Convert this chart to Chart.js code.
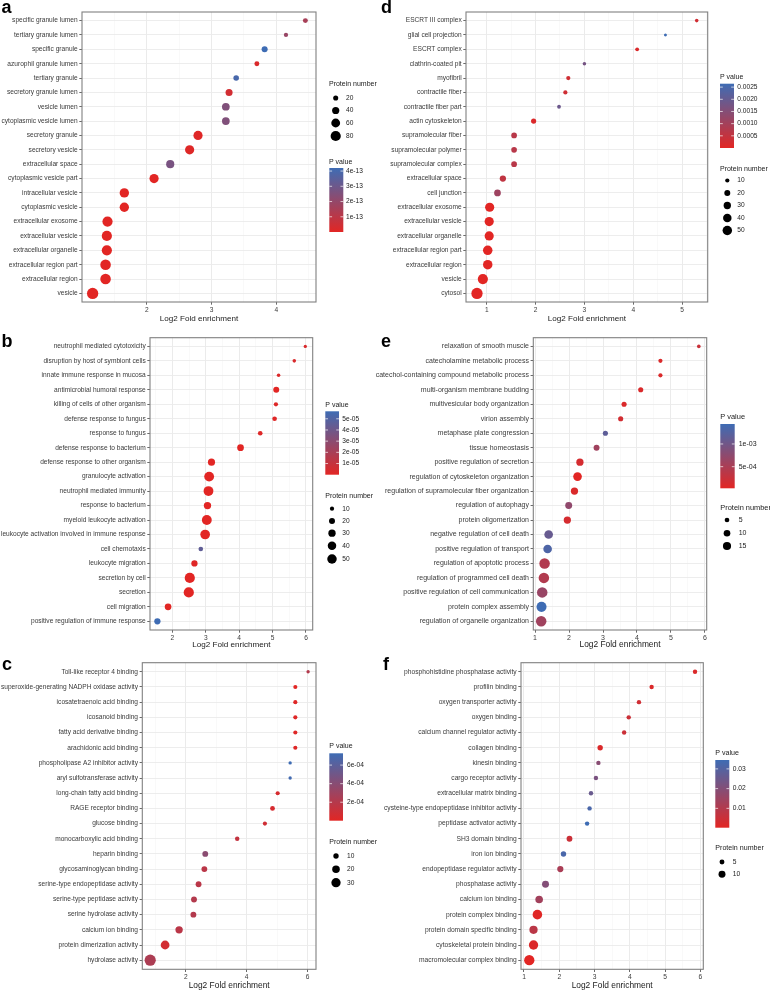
<!DOCTYPE html>
<html>
<head>
<meta charset="utf-8">
<title>GO enrichment bubble charts</title>
<script src="https://cdn.jsdelivr.net/npm/chart.js@4.4.1/dist/chart.umd.min.js"></script>
<style>
  body { margin: 0; background: #fff; }
  #page { position: relative; width: 770px; height: 991px; overflow: hidden; background: #fff; }
  #page canvas { position: absolute; }
</style>
</head>
<body>
<div id="page"></div>
<script>
// ------------------------------------------------------------------
// Six GO enrichment dot plots (a-f), one Chart.js bubble chart each.
// x = Log2 fold enrichment, dot size = protein number, colour = P value
// ------------------------------------------------------------------

// ---- panel a : cellular component ----
var aTerms = ['specific granule lumen', 'tertiary granule lumen', 'specific granule', 'azurophil granule lumen',
  'tertiary granule', 'secretory granule lumen', 'vesicle lumen', 'cytoplasmic vesicle lumen', 'secretory granule',
  'secretory vesicle', 'extracellular space', 'cytoplasmic vesicle part', 'intracellular vesicle', 'cytoplasmic vesicle',
  'extracellular exosome', 'extracellular vesicle', 'extracellular organelle', 'extracellular region part',
  'extracellular region', 'vesicle']
var aFold = [4.45, 4.15, 3.82, 3.70, 3.38, 3.27, 3.22, 3.22, 2.79, 2.66, 2.36, 2.11, 1.65, 1.65, 1.39, 1.38, 1.38, 1.36, 1.36, 1.16]
var aCount = [19, 14, 28, 19, 24, 38, 46, 46, 65, 65, 51, 65, 67, 67, 80, 80, 80, 86, 86, 98]
var aPval = [1.5e-13, 1.9e-13, 4.2e-13, 2e-14, 3.95e-13, 4e-14, 2.5e-13, 2.5e-13, 8e-15, 1e-14, 2.7e-13, 1e-16,
  1e-16, 1e-16, 1e-16, 1e-16, 1e-16, 1e-16, 1e-16, 1e-16]
var aXTicks = [2, 3, 4]
var aSizeBreaks = [20, 40, 60, 80]
var aPBreaks = [1e-13, 2e-13, 3e-13, 4e-13]
var aPLabels = ['1e-13', '2e-13', '3e-13', '4e-13']

// ---- panel d : cellular component ----
var dTerms = ['ESCRT III complex', 'glial cell projection', 'ESCRT complex', 'clathrin-coated pit', 'myofibril',
  'contractile fiber', 'contractile fiber part', 'actin cytoskeleton', 'supramolecular fiber', 'supramolecular polymer',
  'supramolecular complex', 'extracellular space', 'cell junction', 'extracellular exosome', 'extracellular vesicle',
  'extracellular organelle', 'extracellular region part', 'extracellular region', 'vesicle', 'cytosol']
var dFold = [5.30, 4.66, 4.08, 3.00, 2.67, 2.61, 2.48, 1.96, 1.56, 1.56, 1.56, 1.33, 1.22, 1.06, 1.05, 1.05, 1.02, 1.02, 0.92, 0.80]
var dCount = [7, 5, 8, 7, 10, 10, 8, 15, 18, 18, 18, 22, 25, 47, 47, 47, 50, 50, 58, 71]
var dPval = [0.00027, 0.00264, 0.00013, 0.00175, 0.0003, 0.0003, 0.0019, 0.00012, 0.00067, 0.00067, 0.00067,
  0.00055, 0.0011, 1e-6, 1e-6, 1e-6, 1e-6, 1e-6, 1e-6, 1e-7]
var dXTicks = [1, 2, 3, 4, 5]
var dSizeBreaks = [10, 20, 30, 40, 50]
var dPBreaks = [0.0005, 0.0010, 0.0015, 0.0020, 0.0025]
var dPLabels = ['0.0005', '0.0010', '0.0015', '0.0020', '0.0025']

// ---- panel b : biological process ----
var bTerms = ['neutrophil mediated cytotoxicity', 'disruption by host of symbiont cells', 'innate immune response in mucosa',
  'antimicrobial humoral response', 'killing of cells of other organism', 'defense response to fungus', 'response to fungus',
  'defense response to bacterium', 'defense response to other organism', 'granulocyte activation',
  'neutrophil mediated immunity', 'response to bacterium', 'myeloid leukocyte activation',
  'leukocyte activation involved in immune response', 'cell chemotaxis', 'leukocyte migration', 'secretion by cell',
  'secretion', 'cell migration', 'positive regulation of immune response']
var bFold = [5.98, 5.65, 5.18, 5.11, 5.10, 5.06, 4.63, 4.04, 3.17, 3.10, 3.08, 3.05, 3.03, 2.98, 2.85, 2.66, 2.52, 2.49, 1.87, 1.55]
var bCount = [6, 7, 7, 20, 10, 12, 12, 25, 28, 54, 54, 30, 54, 52, 12, 22, 58, 58, 25, 22]
var bPval = [3e-6, 3e-6, 2.5e-6, 1e-7, 1.5e-6, 1e-6, 1.5e-6, 1e-8, 1e-9, 1e-12, 1e-12, 1e-9, 1e-12, 1e-12,
  4.5e-5, 1e-6, 1e-10, 1e-10, 5e-7, 5.67e-5]
var bXTicks = [2, 3, 4, 5, 6]
var bSizeBreaks = [10, 20, 30, 40, 50]
var bPBreaks = [1e-5, 2e-5, 3e-5, 4e-5, 5e-5]
var bPLabels = ['1e-05', '2e-05', '3e-05', '4e-05', '5e-05']

// ---- panel e : biological process ----
var eTerms = ['relaxation of smooth muscle', 'catecholamine metabolic process', 'catechol-containing compound metabolic process',
  'multi-organism membrane budding', 'multivesicular body organization', 'virion assembly', 'metaphase plate congression',
  'tissue homeostasis', 'positive regulation of secretion', 'regulation of cytoskeleton organization',
  'regulation of supramolecular fiber organization', 'regulation of autophagy', 'protein oligomerization',
  'negative regulation of cell death', 'positive regulation of transport', 'regulation of apoptotic process',
  'regulation of programmed cell death', 'positive regulation of cell communication', 'protein complex assembly',
  'regulation of organelle organization']
var eFold = [5.82, 4.69, 4.69, 4.11, 3.62, 3.52, 3.07, 2.81, 2.32, 2.25, 2.16, 1.99, 1.95, 1.40, 1.37, 1.28, 1.26, 1.21, 1.19, 1.18]
var eCount = [3, 4, 4, 6, 6, 6, 6, 8, 12, 17, 12, 11, 12, 17, 17, 25, 25, 25, 23, 25]
var ePval = [2.4e-4, 9.5e-5, 9.5e-5, 9e-5, 9e-5, 1.66e-4, 1.16e-3, 5.9e-4, 1.4e-4, 2.4e-5, 9.5e-5, 7.3e-4, 1.4e-4,
  1.09e-3, 1.3e-3, 4.5e-4, 4.5e-4, 6.6e-4, 1.44e-3, 5.9e-4]
var eXTicks = [1, 2, 3, 4, 5, 6]
var eSizeBreaks = [5, 10, 15]
var ePBreaks = [5e-4, 1e-3]
var ePLabels = ['5e-04', '1e-03']

// ---- panel c : molecular function ----
var cTerms = ['Toll-like receptor 4 binding', 'superoxide-generating NADPH oxidase activity', 'icosatetraenoic acid binding',
  'icosanoid binding', 'fatty acid derivative binding', 'arachidonic acid binding', 'phospholipase A2 inhibitor activity',
  'aryl sulfotransferase activity', 'long-chain fatty acid binding', 'RAGE receptor binding', 'glucose binding',
  'monocarboxylic acid binding', 'heparin binding', 'glycosaminoglycan binding', 'serine-type endopeptidase activity',
  'serine-type peptidase activity', 'serine hydrolase activity', 'calcium ion binding', 'protein dimerization activity',
  'hydrolase activity']
var cFold = [6.02, 5.60, 5.60, 5.60, 5.60, 5.60, 5.43, 5.43, 5.02, 4.85, 4.60, 3.69, 2.64, 2.61, 2.42, 2.27, 2.25, 1.78, 1.32, 0.83]
var cCount = [4, 6, 6, 6, 6, 6, 4, 4, 6, 8, 6, 7, 12, 12, 12, 12, 12, 19, 27, 44]
var cPval = [2.1e-4, 1e-6, 1.5e-5, 1.5e-5, 1.5e-5, 1.5e-5, 7.27e-4, 7.1e-4, 5.5e-5, 5.5e-5, 8.5e-5, 1.4e-4,
  3.9e-4, 1.8e-4, 1.8e-4, 2.1e-4, 2.1e-4, 1.8e-4, 7e-5, 2.4e-4]
var cXTicks = [2, 4, 6]
var cSizeBreaks = [10, 20, 30]
var cPBreaks = [2e-4, 4e-4, 6e-4]
var cPLabels = ['2e-04', '4e-04', '6e-04']

// ---- panel f : molecular function ----
var fTerms = ['phosphohistidine phosphatase activity', 'profilin binding', 'oxygen transporter activity', 'oxygen binding',
  'calcium channel regulator activity', 'collagen binding', 'kinesin binding', 'cargo receptor activity',
  'extracellular matrix binding', 'cysteine-type endopeptidase inhibitor activity', 'peptidase activator activity',
  'SH3 domain binding', 'iron ion binding', 'endopeptidase regulator activity', 'phosphatase activity',
  'calcium ion binding', 'protein complex binding', 'protein domain specific binding', 'cytoskeletal protein binding',
  'macromolecular complex binding']
var fFold = [5.85, 4.62, 4.26, 3.97, 3.84, 3.16, 3.11, 3.04, 2.90, 2.86, 2.79, 2.29, 2.12, 2.03, 1.61, 1.43, 1.38, 1.27, 1.27, 1.15]
var fCount = [4, 4, 4, 4, 4, 6, 4, 4, 4, 4, 4, 7, 6, 8, 10, 12, 19, 14, 18, 22]
var fPval = [0.0017, 0.0017, 0.004, 0.005, 0.005, 0.0017, 0.019, 0.022, 0.0255, 0.032, 0.0345, 0.005, 0.032,
  0.012, 0.02, 0.0136, 0.0007, 0.0085, 0.0017, 0.0002]
var fXTicks = [1, 2, 3, 4, 5, 6]
var fSizeBreaks = [5, 10]
var fPBreaks = [0.01, 0.02, 0.03]
var fPLabels = ['0.01', '0.02', '0.03']

// ------------------------------------------------------------------
// styling
// ------------------------------------------------------------------
var FONT = '"Liberation Sans", Arial, Helvetica, sans-serif'
var LOW = [226, 38, 36]     // low P value (red)
var HIGH = [62, 108, 180]   // high P value (blue)
Chart.defaults.font.family = FONT
Chart.defaults.animation = false

function pColor(t) {
  t = Math.max(0, Math.min(1, t))
  var c = LOW.map((lo, i) => Math.round(lo + (HIGH[i] - lo) * t))
  return 'rgb(' + c.join(',') + ')'
}

// page placement of each panel (global pixel coordinates)
var panels = [
  { tag: 'a', terms: aTerms, fold: aFold, count: aCount, pval: aPval, xTicks: aXTicks, sizeBreaks: aSizeBreaks, pBreaks: aPBreaks, pLabels: aPLabels,
    box: [0, 0, 385, 326], plot: [82, 316, 12, 302], fs: 6.6, ts: 8.1, titlePad: 2.1, tagXY: [1.5, 12.5], k: 1.14,
    pTitle: [329, 162], bar: [329.3, 168, 14, 64], pLabelX: 346,
    sTitle: [329, 84.3], sX: 335.7, sYs: [98, 110.5, 123, 136], sLabelX: 346 },
  { tag: 'd', terms: dTerms, fold: dFold, count: dCount, pval: dPval, xTicks: dXTicks, sizeBreaks: dSizeBreaks, pBreaks: dPBreaks, pLabels: dPLabels,
    box: [355, 0, 415, 326], plot: [466, 707.7, 12, 302], fs: 6.6, ts: 8.1, titlePad: 2.1, tagXY: [381, 12.5], k: 1.34,
    pTitle: [720, 77], bar: [720, 83.7, 14, 64.3], pLabelX: 737.3,
    sTitle: [720, 168.7], sX: 727.3, sYs: [180.5, 193, 205.5, 218, 230.5], sLabelX: 737.3 },
  { tag: 'b', terms: bTerms, fold: bFold, count: bCount, pval: bPval, xTicks: bXTicks, sizeBreaks: bSizeBreaks, pBreaks: bPBreaks, pLabels: bPLabels,
    box: [0, 326, 385, 326], plot: [150, 312.7, 337.7, 630], fs: 6.6, ts: 8.1, titlePad: 2.1, tagXY: [1.5, 347], k: 1.34,
    pTitle: [325.3, 404.7], bar: [325.3, 411.3, 13.7, 63.4], pLabelX: 342.3,
    sTitle: [325.3, 495.7], sX: 332, sYs: [508.7, 521, 533.2, 545.8, 559], sLabelX: 342.3 },
  { tag: 'e', terms: eTerms, fold: eFold, count: eCount, pval: ePval, xTicks: eXTicks, sizeBreaks: eSizeBreaks, pBreaks: ePBreaks, pLabels: ePLabels,
    box: [355, 326, 415, 326], plot: [533.3, 706.7, 337.7, 630], fs: 7.0, ts: 8.4, titlePad: 2.1, tagXY: [381, 347], k: 2.1,
    pTitle: [720.3, 417.3], bar: [720.3, 424, 14.4, 64.3], pLabelX: 738.7,
    sTitle: [720.3, 507.7], sX: 727, sYs: [520, 533.3, 546], sLabelX: 738.7 },
  { tag: 'c', terms: cTerms, fold: cFold, count: cCount, pval: cPval, xTicks: cXTicks, sizeBreaks: cSizeBreaks, pBreaks: cPBreaks, pLabels: cPLabels,
    box: [0, 652, 385, 339], plot: [142.3, 316, 662.7, 969.3], fs: 6.6, ts: 8.4, titlePad: 0.3, tagXY: [2, 670], k: 1.69,
    pTitle: [329.3, 746], bar: [329.3, 753.3, 13.7, 67.4], pLabelX: 347,
    sTitle: [329.3, 841.7], sX: 336, sYs: [856, 869.3, 882.7], sLabelX: 347 },
  { tag: 'f', terms: fTerms, fold: fFold, count: fCount, pval: fPval, xTicks: fXTicks, sizeBreaks: fSizeBreaks, pBreaks: fPBreaks, pLabels: fPLabels,
    box: [355, 652, 415, 339], plot: [521, 703.3, 662.7, 969.3], fs: 6.7, ts: 8.4, titlePad: 0.3, tagXY: [383, 670], k: 2.2,
    pTitle: [715.3, 753.3], bar: [715.3, 760, 14, 67.7], pLabelX: 732.7,
    sTitle: [715.3, 847.7], sX: 722, sYs: [862, 874.3], sLabelX: 732.7 }
]

function makePanel(P) {
  var ox = P.box[0], oy = P.box[1], W = P.box[2], H = P.box[3]
  var canvas = document.createElement('canvas')
  canvas.width = W
  canvas.height = H
  canvas.style.left = ox + 'px'
  canvas.style.top = oy + 'px'
  document.getElementById('page').appendChild(canvas)

  var n = P.terms.length
  var pMin = Math.min(...P.pval), pMax = Math.max(...P.pval)
  var fMin = Math.min(...P.fold), fMax = Math.max(...P.fold)
  // ggplot style 5% expansion of the continuous axis
  var xMin = fMin - (fMax - fMin) * 0.05
  var xMax = fMax + (fMax - fMin) * 0.05

  // major ticks plus half-way minor grid lines
  var half = (P.xTicks[1] - P.xTicks[0]) / 2
  var xAll = []
  for (var i = -1; i <= 2 * P.xTicks.length; i++) {
    var v = Math.round((P.xTicks[0] + i * half) * 1000) / 1000
    if (v >= xMin && v <= xMax) xAll.push(v)
  }
  var isMajor = v => P.xTicks.indexOf(v) >= 0

  var points = P.fold.map((f, i) => ({ x: f, y: i + 1, r: P.k * Math.sqrt(P.count[i]) / 2 }))
  var colors = P.pval.map(p => pColor((p - pMin) / (pMax - pMin)))

  var decor = {
    id: 'decor',
    afterDraw(chart) {
      var c = chart.ctx, a = chart.chartArea
      c.save()
      // panel border
      c.strokeStyle = '#808080'
      c.lineWidth = 1.1
      c.strokeRect(a.left, a.top, a.right - a.left, a.bottom - a.top)
      // panel letter
      c.fillStyle = '#000'
      c.textAlign = 'left'
      c.textBaseline = 'alphabetic'
      c.font = 'bold 18px ' + FONT
      c.fillText(P.tag, P.tagXY[0] - ox, P.tagXY[1] - oy)

      // P value colour bar
      c.textBaseline = 'middle'
      c.font = (P.fs * 1.06) + 'px ' + FONT
      c.fillStyle = '#1a1a1a'
      c.fillText('P value', P.pTitle[0] - ox, P.pTitle[1] - oy)
      var bx = P.bar[0] - ox, by = P.bar[1] - oy, bw = P.bar[2], bh = P.bar[3]
      var g = c.createLinearGradient(0, by + bh, 0, by)
      g.addColorStop(0, pColor(0))
      g.addColorStop(1, pColor(1))
      c.fillStyle = g
      c.fillRect(bx, by, bw, bh)
      c.font = P.fs + 'px ' + FONT
      c.strokeStyle = 'rgba(255,255,255,0.85)'
      c.lineWidth = 0.8
      P.pBreaks.forEach((b, i) => {
        var y = by + bh - (b - pMin) / (pMax - pMin) * bh
        c.beginPath()
        c.moveTo(bx, y); c.lineTo(bx + bw * 0.2, y)
        c.moveTo(bx + bw * 0.8, y); c.lineTo(bx + bw, y)
        c.stroke()
        c.fillStyle = '#1a1a1a'
        c.fillText(P.pLabels[i], P.pLabelX - ox, y)
      })

      // protein number size legend
      c.font = (P.fs * 1.06) + 'px ' + FONT
      c.fillText('Protein number', P.sTitle[0] - ox, P.sTitle[1] - oy)
      c.font = P.fs + 'px ' + FONT
      P.sizeBreaks.forEach((b, i) => {
        var y = P.sYs[i] - oy
        c.fillStyle = '#000'
        c.beginPath()
        c.arc(P.sX - ox, y, P.k * Math.sqrt(b) / 2, 0, Math.PI * 2)
        c.fill()
        c.fillStyle = '#1a1a1a'
        c.fillText(String(b), P.sLabelX - ox, y)
      })
      c.restore()
    }
  }

  new Chart(canvas, {
    type: 'bubble',
    data: {
      datasets: [{
        data: points,
        backgroundColor: colors,
        borderWidth: 0,
        hoverRadius: 0,
        hoverBorderWidth: 0
      }]
    },
    options: {
      responsive: false,
      events: [],
      layout: { padding: { left: 0, top: P.plot[2] - oy, right: ox + W - P.plot[1], bottom: 0 } },
      plugins: { legend: { display: false }, tooltip: { enabled: false } },
      scales: {
        x: {
          type: 'linear',
          min: xMin,
          max: xMax,
          afterBuildTicks: s => { s.ticks = xAll.map(v => ({ value: v })) },
          afterFit: s => { s.height = oy + H - P.plot[3] },
          border: { display: false },
          grid: {
            color: ctx => (ctx.tick && isMajor(ctx.tick.value)) ? '#e9e9e9' : '#f3f3f3',
            lineWidth: ctx => (ctx.tick && isMajor(ctx.tick.value)) ? 0.9 : 0.5,
            tickLength: 2.7,
            tickWidth: 0.8,
            tickColor: ctx => (ctx.tick && isMajor(ctx.tick.value)) ? '#444' : 'rgba(0,0,0,0)'
          },
          ticks: {
            autoSkip: false,
            maxRotation: 0,
            padding: 1.5,
            color: '#3a3a3a',
            font: { size: P.fs },
            callback: v => isMajor(v) ? String(v) : ''
          },
          title: {
            display: true,
            text: 'Log2 Fold enrichment',
            color: '#1a1a1a',
            font: { size: P.ts },
            padding: { top: 0, bottom: P.titlePad }
          }
        },
        y: {
          type: 'linear',
          reverse: true,
          min: 0.4,
          max: n + 0.6,
          afterBuildTicks: s => { s.ticks = P.terms.map((t, i) => ({ value: i + 1 })) },
          afterFit: s => { s.width = P.plot[0] - ox },
          border: { display: false },
          grid: {
            color: '#ebebeb',
            lineWidth: 0.9,
            tickLength: 2.7,
            tickWidth: 0.8,
            tickColor: '#444'
          },
          ticks: {
            autoSkip: false,
            padding: 1.6,
            color: '#3a3a3a',
            font: { size: P.fs },
            callback: v => P.terms[v - 1]
          }
        }
      }
    },
    plugins: [decor]
  })
}

panels.forEach(makePanel)
</script>
</body>
</html>
